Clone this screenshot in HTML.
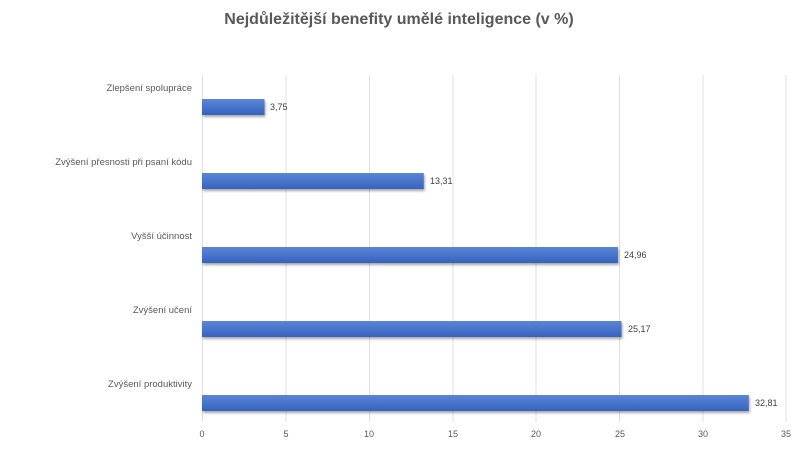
<!DOCTYPE html><html><head><meta charset="utf-8"><style>body{margin:0;background:#fff}svg{display:block}text{font-family:"Liberation Sans",sans-serif}</style></head><body>
<svg width="800" height="455" xmlns="http://www.w3.org/2000/svg">
<defs><linearGradient id="g" x1="0" y1="0" x2="0" y2="1"><stop offset="0" stop-color="#5b85d6"/><stop offset="1" stop-color="#3563c0"/></linearGradient>
<filter id="s"><feDropShadow dx="1" dy="2" stdDeviation="1.2" flood-opacity="0.35"/></filter></defs>
<text x="399" y="24" text-anchor="middle" font-size="16" font-weight="bold" fill="#595959">Nejdůležitější  benefity umělé inteligence (v %)</text>
<g stroke="#e0e0e0" stroke-width="1">
<line x1="202.5" y1="75" x2="202.5" y2="422"/><line x1="286" y1="75" x2="286" y2="422"/><line x1="369.5" y1="75" x2="369.5" y2="422"/><line x1="453" y1="75" x2="453" y2="422"/><line x1="536" y1="75" x2="536" y2="422"/><line x1="619.5" y1="75" x2="619.5" y2="422"/><line x1="703" y1="75" x2="703" y2="422"/><line x1="786" y1="75" x2="786" y2="422"/></g>
<g font-size="9" fill="#595959" text-anchor="middle">
<text x="202" y="437">0</text><text x="286" y="437">5</text><text x="369" y="437">10</text><text x="453" y="437">15</text><text x="536" y="437">20</text><text x="620" y="437">25</text><text x="703" y="437">30</text><text x="786" y="437">35</text></g>
<g fill="url(#g)" filter="url(#s)">
<rect x="202" y="99" width="62.5" height="16"/><rect x="202" y="173" width="221.8" height="16"/><rect x="202" y="247" width="416" height="16"/><rect x="202" y="321" width="419.5" height="16"/><rect x="202" y="395" width="546.8" height="16"/></g>
<g font-size="9" fill="#404040">
<text x="270" y="110">3,75</text><text x="430" y="184">13,31</text><text x="624" y="258">24,96</text><text x="628" y="332">25,17</text><text x="755" y="406">32,81</text></g>
<g font-size="9.5" fill="#595959" text-anchor="end">
<text x="192" y="91">Zlepšení spolupráce</text><text x="192" y="165">Zvýšení přesnosti při psaní kódu</text><text x="192" y="239">Vyšší účinnost</text><text x="192" y="313">Zvýšení učení</text><text x="192" y="387">Zvýšení produktivity</text></g>
</svg></body></html>
